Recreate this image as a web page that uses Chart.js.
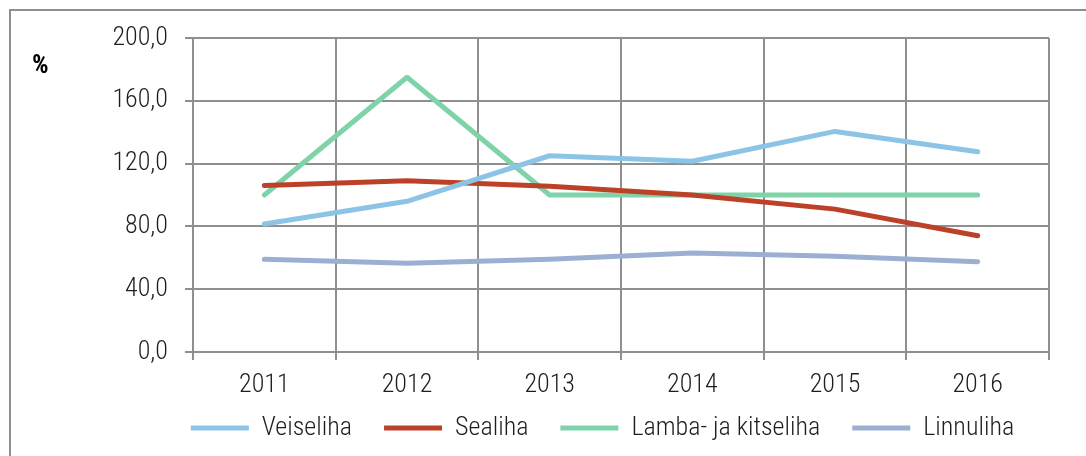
<!DOCTYPE html>
<html>
<head>
<meta charset="utf-8">
<script src="https://cdn.jsdelivr.net/npm/chart.js@4.4.1/dist/chart.umd.min.js"></script>
<style>
  html, body { margin: 0; padding: 0; background: #fff; }
  #wrap { position: relative; width: 1086px; height: 456px; }
</style>
</head>
<body>
<div id="wrap"><canvas id="chart" width="1086" height="456"></canvas></div>
<script>
// Andmed
const aastad = ['2011', '2012', '2013', '2014', '2015', '2016'];
const veiseliha = [81.5, 96.0, 125.0, 121.5, 140.5, 127.5];
const sealiha = [106.0, 109.0, 105.5, 100.0, 91.0, 74.0];
const lambaKitseliha = [100.0, 175.0, 100.0, 100.0, 100.0, 100.0];
const linnuliha = [59.0, 56.5, 59.0, 63.0, 61.0, 57.5];
const yTicks = [0, 40, 80, 120, 160, 200];

const FONT = '"Roboto Condensed", "Liberation Sans Narrow", "DejaVu Sans Condensed", sans-serif';
const GRID = '#8f8f8f';
const TEXT = '#1e1e1e';

// legendi nihe (px)
const LEGEND_DX = 78;
const LEGEND_DY = -19;

// raam, "%" silt ja legendi asukoht
const lisad = {
    id: 'lisad',
    afterLayout(chart) {
        const lg = chart.legend;
        lg.left += LEGEND_DX;
        lg.right += LEGEND_DX;
        lg.top += LEGEND_DY;   // alumine serv jääb paigale, et tekst ei lõikuks
    },
    beforeDraw(chart) {
        const ctx = chart.ctx;
        ctx.save();
        ctx.strokeStyle = GRID;
        ctx.lineWidth = 2;
        ctx.beginPath();
        ctx.moveTo(10, 456);
        ctx.lineTo(10, 10);
        ctx.lineTo(1086, 10);
        ctx.stroke();
        ctx.restore();
    },
    afterDraw(chart) {
        const ctx = chart.ctx;
        ctx.save();
        ctx.fillStyle = '#000';
        ctx.font = 'bold 26px ' + FONT;
        ctx.textBaseline = 'middle';
        ctx.fillText('%', 32, 66);
        ctx.restore();
    }
};

function sari(label, data, color) {
    return {
        label,
        data,
        borderColor: color,
        backgroundColor: color,
        borderWidth: 5,
        borderCapStyle: 'round',
        borderJoinStyle: 'round',
        pointRadius: 0,
        pointHoverRadius: 0,
        tension: 0,
        fill: false
    };
}

const ctx = document.getElementById('chart').getContext('2d');
new Chart(ctx, {
    type: 'line',
    data: {
        labels: aastad,
        datasets: [
            sari('Veiseliha', veiseliha, '#8cc4e6'),
            sari('Sealiha', sealiha, '#bc4128'),
            sari('Lamba- ja kitseliha', lambaKitseliha, '#7ed3a9'),
            sari('Linnuliha', linnuliha, '#9bafd2')
        ]
    },
    options: {
        responsive: false,
        animation: false,
        events: [],
        layout: { padding: { left: 0, right: 37, top: 38, bottom: 0 } },
        plugins: {
            legend: {
                position: 'bottom',
                maxHeight: 54,
                labels: {
                    usePointStyle: true,
                    pointStyle: 'line',
                    pointStyleWidth: 58,
                    boxHeight: 20,
                    padding: 32,
                    color: TEXT,
                    font: { family: FONT, size: 26, weight: 300 }
                }
            },
            tooltip: { enabled: false }
        },
        scales: {
            x: {
                offset: true,
                grid: { offset: true, color: GRID, lineWidth: 2, tickLength: 8 },
                border: { color: GRID, width: 2 },
                ticks: {
                    color: TEXT,
                    padding: 10,
                    font: { family: FONT, size: 26, weight: 300 },
                    maxRotation: 0
                },
                afterFit(scale) { scale.height = 50; }
            },
            y: {
                min: 0,
                max: 200,
                afterBuildTicks(scale) { scale.ticks = yTicks.map(v => ({ value: v })); },
                grid: { color: GRID, lineWidth: 2, tickLength: 8 },
                border: { color: GRID, width: 2 },
                ticks: {
                    color: TEXT,
                    padding: 17,
                    font: { family: FONT, size: 26, weight: 300 },
                    callback: v => v.toFixed(1).replace('.', ',')
                },
                afterFit(scale) { scale.width = 193; }
            }
        }
    },
    plugins: [lisad]
});
</script>
</body>
</html>
